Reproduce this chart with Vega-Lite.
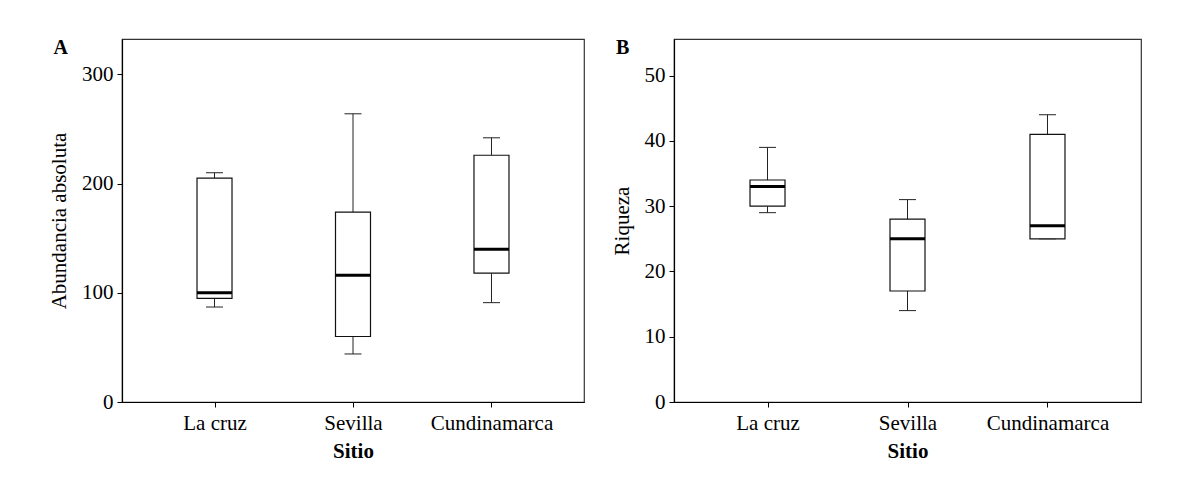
{
  "$schema": "https://vega.github.io/schema/vega-lite/v6.json",
  "padding": {"left": 47, "top": 37, "right": 5, "bottom": 5},
  "background": "white",
  "config": {
    "font": "Liberation Serif",
    "view": {"stroke": "#333", "strokeWidth": 1.2},
    "axis": {"labelFont": "Liberation Serif", "labelFontSize": 21, "labelColor": "black", "titleFont": "Liberation Serif", "titleFontSize": 21, "titleColor": "black", "titleFontWeight": "normal", "domainColor": "black", "domainWidth": 1.2, "tickColor": "black", "tickSize": 5, "grid": false, "labelPadding": 4},
    "axisX": {"labelAngle": 0, "titleFontWeight": "bold", "labelPadding": 5, "titlePadding": 7},
    "axisY": {"titlePadding": 12},
    "tick": {"opacity": 1},
    "title": {"font": "Liberation Serif", "fontSize": 20, "fontWeight": "bold", "anchor": "start", "frame": "bounds", "color": "black"}
  },
  "datasets": {
    "abund": [
      {"Sitio": "La cruz", "lower": 87, "q1": 95, "median": 100, "q3": 205, "upper": 210},
      {"Sitio": "Sevilla", "lower": 44, "q1": 60, "median": 116, "q3": 174, "upper": 264},
      {"Sitio": "Cundinamarca", "lower": 91, "q1": 118, "median": 140, "q3": 226, "upper": 242}
    ],
    "riq": [
      {"Sitio": "La cruz", "lower": 29, "q1": 30, "median": 33, "q3": 34, "upper": 39},
      {"Sitio": "Sevilla", "lower": 14, "q1": 17, "median": 25, "q3": 28, "upper": 31},
      {"Sitio": "Cundinamarca", "lower": 25, "q1": 25, "median": 27, "q3": 41, "upper": 44}
    ]
  },
  "spacing": 25,
  "hconcat": [
    {
      "width": 462, "height": 363,
      "title": {"text": "A", "offset": 0, "baseline": "alphabetic", "dx": 5, "dy": 35},
      "data": {"name": "abund"},
      "encoding": {
        "x": {"field": "Sitio", "type": "nominal", "sort": ["La cruz", "Sevilla", "Cundinamarca"], "scale": {"type": "point", "padding": 0.668}, "title": "Sitio"}
      },
      "layer": [
        {"mark": {"type": "rule", "color": "#222", "strokeWidth": 1}, "encoding": {"y": {"field": "lower", "type": "quantitative", "title": "Abundancia absoluta", "scale": {"domain": [0, 332.5], "nice": false}, "axis": {"values": [0, 100, 200, 300]}}, "y2": {"field": "q1"}}},
        {"mark": {"type": "rule", "color": "#222", "strokeWidth": 1}, "encoding": {"y": {"field": "q3", "type": "quantitative", "title": "Abundancia absoluta"}, "y2": {"field": "upper"}}},
        {"mark": {"type": "tick", "size": 17, "thickness": 1, "color": "#222", "opacity": 1}, "encoding": {"y": {"field": "lower", "type": "quantitative", "title": "Abundancia absoluta"}}},
        {"mark": {"type": "tick", "size": 17, "thickness": 1, "color": "#222", "opacity": 1}, "encoding": {"y": {"field": "upper", "type": "quantitative", "title": "Abundancia absoluta"}}},
        {"mark": {"type": "bar", "size": 35, "fill": "white", "stroke": "#111", "strokeWidth": 1.2}, "encoding": {"y": {"field": "q1", "type": "quantitative", "title": "Abundancia absoluta"}, "y2": {"field": "q3"}}},
        {"mark": {"type": "tick", "size": 35, "thickness": 3, "color": "black", "opacity": 1}, "encoding": {"y": {"field": "median", "type": "quantitative", "title": "Abundancia absoluta"}}}
      ]
    },
    {
      "width": 467, "height": 363,
      "title": {"text": "B", "offset": 0, "baseline": "alphabetic", "dx": 5, "dy": 35},
      "data": {"name": "riq"},
      "encoding": {
        "x": {"field": "Sitio", "type": "nominal", "sort": ["La cruz", "Sevilla", "Cundinamarca"], "scale": {"type": "point", "padding": 0.668}, "title": "Sitio"}
      },
      "layer": [
        {"mark": {"type": "rule", "color": "#222", "strokeWidth": 1}, "encoding": {"y": {"field": "lower", "type": "quantitative", "title": "Riqueza", "scale": {"domain": [0, 55.6], "nice": false}, "axis": {"values": [0, 10, 20, 30, 40, 50]}}, "y2": {"field": "q1"}}},
        {"mark": {"type": "rule", "color": "#222", "strokeWidth": 1}, "encoding": {"y": {"field": "q3", "type": "quantitative", "title": "Riqueza"}, "y2": {"field": "upper"}}},
        {"mark": {"type": "tick", "size": 17, "thickness": 1, "color": "#222", "opacity": 1}, "encoding": {"y": {"field": "lower", "type": "quantitative", "title": "Riqueza"}}},
        {"mark": {"type": "tick", "size": 17, "thickness": 1, "color": "#222", "opacity": 1}, "encoding": {"y": {"field": "upper", "type": "quantitative", "title": "Riqueza"}}},
        {"mark": {"type": "bar", "size": 35, "fill": "white", "stroke": "#111", "strokeWidth": 1.2}, "encoding": {"y": {"field": "q1", "type": "quantitative", "title": "Riqueza"}, "y2": {"field": "q3"}}},
        {"mark": {"type": "tick", "size": 35, "thickness": 3, "color": "black", "opacity": 1}, "encoding": {"y": {"field": "median", "type": "quantitative", "title": "Riqueza"}}}
      ]
    }
  ]
}
